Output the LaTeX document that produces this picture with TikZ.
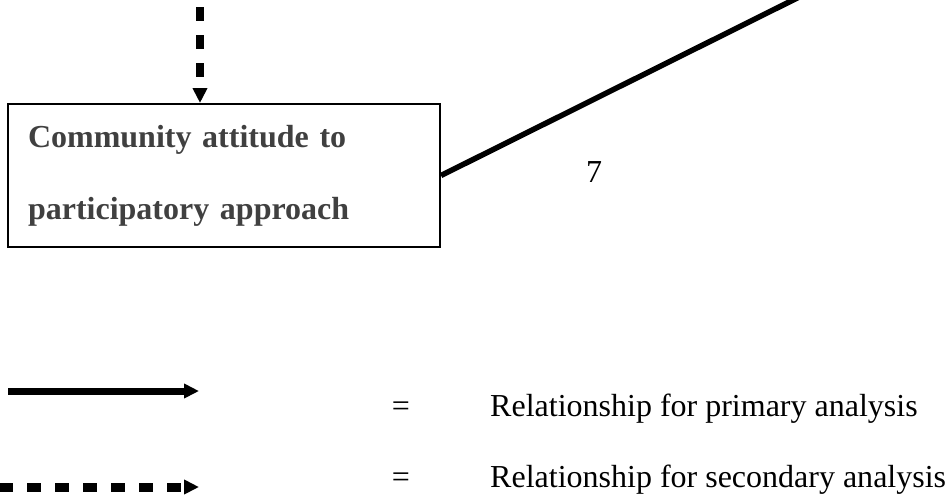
\documentclass[tikz,border=0pt]{standalone}
\usepackage{fontspec}
\setmainfont{Liberation Serif}
\usetikzlibrary{arrows.meta}
\definecolor{boxtext}{HTML}{404040}
\tikzset{
  bigtext/.style={font=\fontsize{32}{38}\selectfont, inner sep=0pt},
  concept/.style={draw=black, line width=2pt, rectangle, minimum width=432pt, minimum height=143pt,
     align=left, text width=392pt, inner xsep=20pt, inner ysep=0pt,
     font=\bfseries\fontsize{32}{72}\selectfont, text=boxtext},
  primary/.style={line width=7pt, -{Triangle[width=14pt,length=15pt]}},
  secondary/.style={line width=9pt, dash pattern=on 14pt off 14pt, -{Triangle[width=14pt,length=15pt]}},
  thickline/.style={line width=5.5pt},
}
\begin{document}
\begin{tikzpicture}[x=1pt,y=-1pt]
\useasboundingbox (0,0) rectangle (949,499);
% concept box
\node[concept] (box) at (224,175.5) {Community attitude to\\participatory approach};
% incoming dashed arrow
\coordinate (top) at (200,7);
\draw[secondary, line width=8pt] (top) -- (top |- box.north);
% outgoing thick line
\coordinate (far) at (813.2,-10);
\draw[thickline] (box.east) -- (far);
\node[bigtext, anchor=base] (seven) at (594,182) {7};
% legend
\coordinate (l1a) at (8,391);
\coordinate (l1b) at (199,391);
\draw[primary] (l1a) -- (l1b);
\coordinate (l2a) at (-1,487);
\coordinate (l2b) at (199,487);
\draw[secondary] (l2a) -- (l2b);
\node[bigtext, anchor=base] (eq1) at (401,416) {=};
\node[bigtext, anchor=base west] (t1) at (490,416) {Relationship for primary analysis};
\node[bigtext, anchor=base] (eq2) at (401,487) {=};
\node[bigtext, anchor=base west] (t2) at (490,487) {Relationship for secondary analysis};
\end{tikzpicture}
\end{document}
